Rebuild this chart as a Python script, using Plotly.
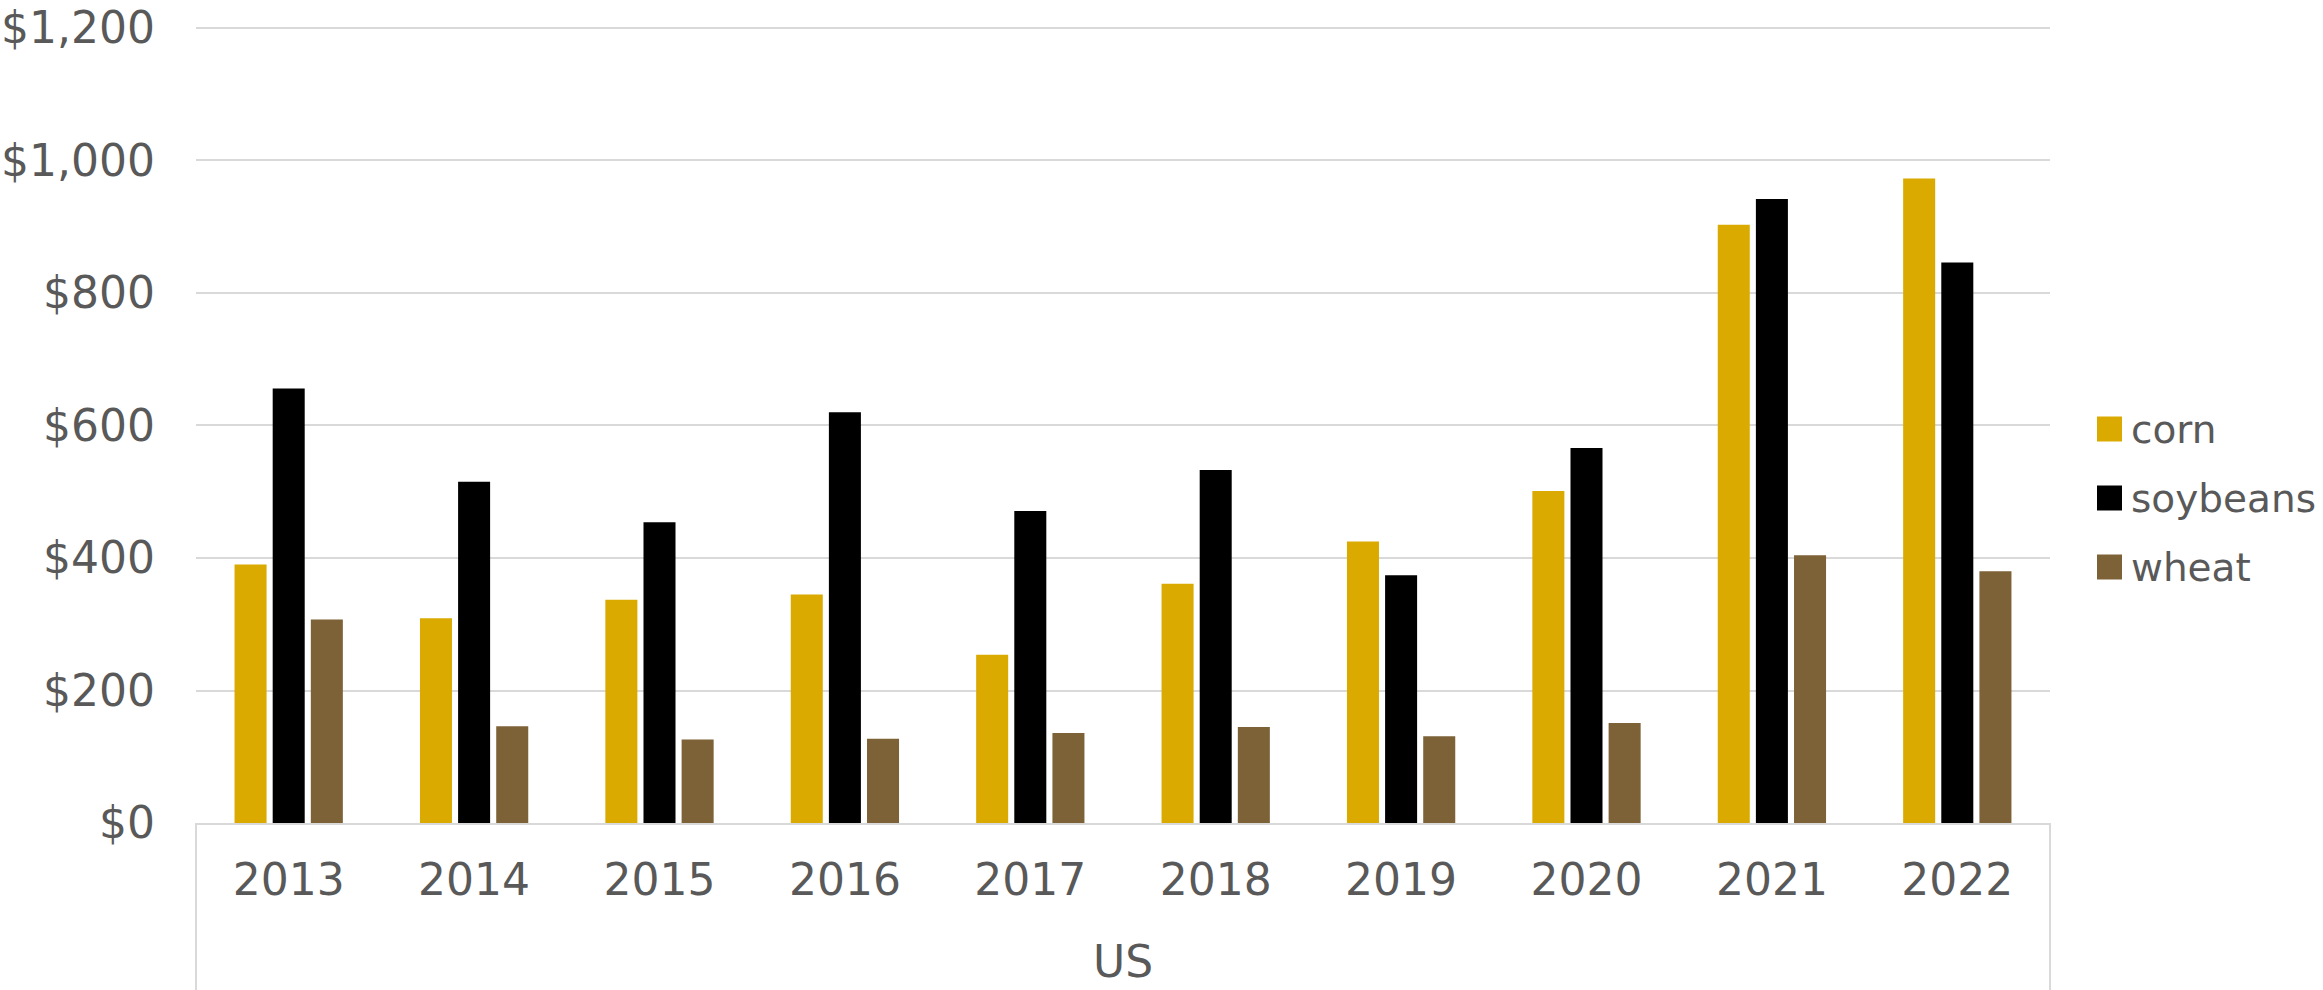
import plotly.graph_objects as go

# Values per acre by crop, US, 2013-2022
years = ["2013", "2014", "2015", "2016", "2017", "2018", "2019", "2020", "2021", "2022"]
corn = [390, 309, 337, 345, 254, 361, 425, 501, 903, 973]
soybeans = [656, 515, 454, 620, 471, 533, 374, 566, 942, 846]
wheat = [307, 146, 126, 127, 136, 145, 131, 151, 404, 380]
y_ticks = [0, 200, 400, 600, 800, 1000, 1200]
region_label = "US"

series = [("corn", corn, "#DAAA00"), ("soybeans", soybeans, "#000000"), ("wheat", wheat, "#7D6137")]

W, H = 2323, 990
L, R, B = 196, 2050, 823  # plot area edges in pixels
Y_MAX = 1203              # a little headroom so the $1,200 gridline is drawn
T = 26                    # top edge so that $1,200 sits near y=28
TEXT = "#595959"
GRID = "#D9D9D9"
FONT = "DejaVu Sans"


def px_x(x):
    return (x - L) / (R - L)


def px_y(y):
    return (B - y) / (B - T)


fig = go.Figure()
for name, vals, color in series:
    fig.add_trace(go.Bar(x=years, y=vals, name=name, marker=dict(color=color, line=dict(width=0))))

fig.update_layout(
    width=W, height=H,
    margin=dict(l=L, r=W - R, t=T, b=H - B, pad=0, autoexpand=False),
    paper_bgcolor="white", plot_bgcolor="white",
    barmode="group", bargap=0.383, bargroupgap=0.16,
    showlegend=False,
    font=dict(family=FONT, color=TEXT, size=44),
)

fig.update_yaxes(
    range=[0, Y_MAX], tickvals=y_ticks,
    ticktext=[f"${v:,}" for v in y_ticks],
    showgrid=True, gridcolor=GRID, gridwidth=2,
    zeroline=False, showline=False, ticks="",
    automargin=False, ticklabelstandoff=40,
    tickfont=dict(size=44, color=TEXT, family=FONT),
)
fig.update_xaxes(
    showline=True, linecolor=GRID, linewidth=2,
    ticks="", showgrid=False,
    automargin=False, ticklabelstandoff=17,
    tickfont=dict(size=44, color=TEXT, family=FONT),
)

# Outer category box below the axis
for xp in (0, 1):
    fig.add_shape(type="line", xref="paper", yref="paper", x0=xp, x1=xp,
                  y0=0, y1=px_y(H + 5), line=dict(color=GRID, width=2))

fig.add_annotation(text=region_label, xref="paper", yref="paper", x=0.5, y=px_y(962),
                   xanchor="center", yanchor="middle", showarrow=False, borderpad=0,
                   font=dict(size=44, color=TEXT, family=FONT))

# Legend
sq = 25
for i, (name, _, color) in enumerate(series):
    cy = 429 + i * 69
    fig.add_shape(type="rect", xref="paper", yref="paper",
                  x0=px_x(2097), x1=px_x(2097 + sq), y0=px_y(cy + sq / 2), y1=px_y(cy - sq / 2),
                  fillcolor=color, line=dict(width=0))
    fig.add_annotation(text=name, xref="paper", yref="paper", x=px_x(2130), y=px_y(cy),
                       xanchor="left", yanchor="middle", showarrow=False, borderpad=0,
                       font=dict(size=39, color=TEXT, family=FONT))

fig.write_html("out.html")
